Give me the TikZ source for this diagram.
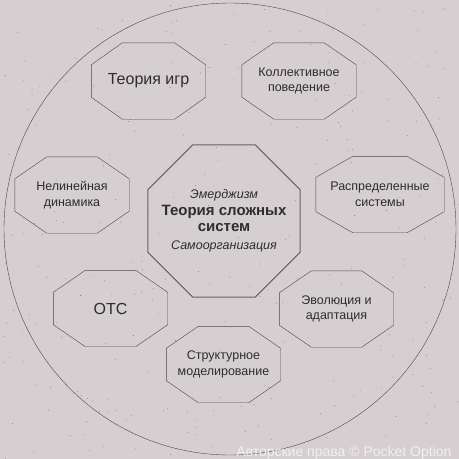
\documentclass[tikz,border=0pt]{standalone}
\usepackage{fontspec}
\setmainfont{Liberation Sans}
\usetikzlibrary{calc}
\definecolor{paper}{RGB}{213,207,209}
\definecolor{edge}{RGB}{75,72,74}
\definecolor{ink}{RGB}{45,45,45}
\begin{document}
\begin{tikzpicture}[x=1pt,y=-1pt,
          topic/.style={rectangle,minimum width=114pt,minimum height=76pt,
            inner sep=0pt,text=ink,align=center,
            font=\fontsize{12.5}{15.5}\selectfont},
          core/.style={topic,minimum width=152pt,minimum height=152pt},
          octa/.style={draw=edge,thin,line join=round},
        ]
        \fill[paper] (0,0) rectangle (459,459);
        \useasboundingbox (0,0) rectangle (459,459);
        % speckles of the paper
        \pgfmathsetseed{41}
        \foreach \i in {1,...,260}
          \fill[ink!80,opacity=0.7] (rnd*459,rnd*459) circle (0.45pt);

        \node[draw=edge,circle,thin,minimum size=452pt,inner sep=0pt] (frame) at (230,229) {};

        \node[core] (theory) at (224,221) {%
          \itshape\fontsize{12.5}{19}\selectfont Эмерджизм\\[1pt]
          \bfseries\fontsize{15}{19}\selectfont Теория сложных\\[1pt]
          \bfseries\fontsize{15}{17}\selectfont систем\\[2pt]
          \itshape\fontsize{12.5}{15}\selectfont Самоорганизация};

        \node[topic,font=\fontsize{16}{19}\selectfont] (games) at (148.5,81) {Теория игр};
        \node[topic] (collective) at (299,81) {Коллективное\\ поведение};
        \node[topic] (nonlinear) at (72,195) {Нелинейная\\ динамика};
        \node[topic,minimum width=128pt] (distributed) at (380,194.5) {Распределенные\\ системы};
        \node[topic,font=\fontsize{16}{19}\selectfont] (gst) at (110.5,308.5) {ОТС};
        \node[topic] (evolution) at (336.5,309) {Эволюция и\\ адаптация};
        \node[topic] (structural) at (223.5,364.5) {Структурное\\ моделирование};

        % octagon outlines: node / horizontal cut / vertical cut
        \foreach \n/\cx/\cy in {games/31/22,collective/32/22,nonlinear/32/22,
            distributed/37/21,gst/32/22,evolution/32/22,structural/32/22}
          \draw[octa] ($(\n.north west)+(\cx,0)$) -- ($(\n.north east)+(-\cx,0)$)
            -- ($(\n.north east)+(0,\cy)$) -- ($(\n.south east)+(0,-\cy)$)
            -- ($(\n.south east)+(-\cx,0)$) -- ($(\n.south west)+(\cx,0)$)
            -- ($(\n.south west)+(0,-\cy)$) -- ($(\n.north west)+(0,\cy)$) -- cycle;
        \draw[octa,draw=edge!85,line width=1pt]
            ($(theory.north west)+(45,0)$) -- ($(theory.north east)+(-45,0)$)
            -- ($(theory.north east)+(0,45)$) -- ($(theory.south east)+(0,-45)$)
            -- ($(theory.south east)+(-45,0)$) -- ($(theory.south west)+(45,0)$)
            -- ($(theory.south west)+(0,-45)$) -- ($(theory.north west)+(0,45)$) -- cycle;

        \node[anchor=base east,text=white!88!gray,font=\fontsize{14}{16}\selectfont] (mark) at (455,456) {Авторские права © Pocket Option};
      \end{tikzpicture}
\end{document}
